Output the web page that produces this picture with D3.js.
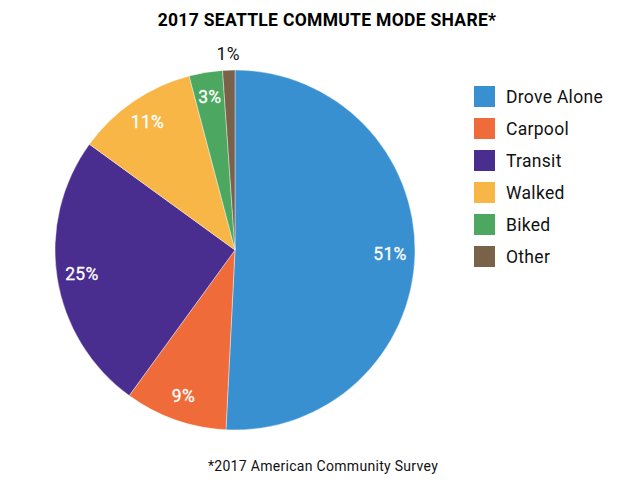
<!DOCTYPE html>
<html>
<head>
<meta charset="utf-8">
<script src="https://cdn.jsdelivr.net/npm/d3@7"></script>
<style>
    body { margin: 0; background: #fff; }
    text { font-family: Roboto, "DejaVu Sans", sans-serif; }
</style>
</head>
<body>
<script>
// commute mode share data
var modes = ["Drove Alone", "Carpool", "Transit", "Walked", "Biked", "Other"];
var shares = [50.8, 9.2, 25.0, 10.9, 3.0, 1.1];
var shareLabels = ["51%", "9%", "25%", "11%", "3%", "1%"];
var colors = ["#3890d0", "#ef6c3a", "#4a2e8f", "#f7b645", "#4ca860", "#7a624a"];

window.onload = function(){

    var w = 618,
        h = 481;

    var svg = d3.select("body")
        .append("svg")
        .attr("width", w)
        .attr("height", h);

    // title
    svg.append("text")
        .attr("x", 327)
        .attr("y", 26)
        .attr("text-anchor", "middle")
        .style("font-size", "17.5px")
        .style("font-weight", "bold")
        .style("letter-spacing", "0.3px")
        .text("2017 SEATTLE COMMUTE MODE SHARE*");

    var data = modes.map(function(m, i){
        return { mode: m, value: shares[i], label: shareLabels[i] };
    });

    var color = d3.scaleOrdinal()
        .domain(modes)
        .range(colors);

    var pie = d3.pie()
        .sort(null)
        .value(function(d){ return d.value; });

    var radius = 180;
    var arc = d3.arc().innerRadius(0).outerRadius(radius);
    var labelArc = d3.arc().innerRadius(155).outerRadius(155);
    var outerArc = d3.arc().innerRadius(196).outerRadius(196);

    var g = svg.append("g")
        .attr("transform", "translate(235,250)");

    var arcs = pie(data);

    g.selectAll(".slice")
        .data(arcs)
        .enter()
        .append("path")
        .attr("class", "slice")
        .attr("d", arc)
        .style("fill", function(d){ return color(d.data.mode); })
        .style("stroke", "#fff")
        .style("stroke-width", 0.4);

    // percentage labels, small slice goes outside
    g.selectAll(".pct")
        .data(arcs)
        .enter()
        .append("text")
        .attr("class", "pct")
        .attr("transform", function(d){
            var c = d.data.value < 2 ? outerArc.centroid(d) : labelArc.centroid(d);
            return "translate(" + c + ")";
        })
        .attr("text-anchor", "middle")
        .attr("dy", "0.35em")
        .style("font-size", "17.5px")
        .style("letter-spacing", "0.3px")
        .style("fill", function(d){ return d.data.value < 2 ? "#111" : "#fff"; })
        .style("stroke", function(d){ return d.data.value < 2 ? "none" : "#fff"; })
        .style("stroke-width", 0.3)
        .text(function(d){ return d.data.label; });

    // legend
    var legend = svg.selectAll(".legend")
        .data(modes)
        .enter()
        .append("g")
        .attr("class", "legend")
        .attr("transform", function(d, i){
            return "translate(474," + (86 + i * 32) + ")";
        });

    legend.append("rect")
        .attr("width", 21)
        .attr("height", 21)
        .style("fill", function(d){ return color(d); });

    legend.append("text")
        .attr("x", 32)
        .attr("y", 11)
        .attr("dy", "0.35em")
        .style("font-size", "17.5px")
        .style("letter-spacing", "0.3px")
        .style("fill", "#111")
        .text(function(d){ return d; });

    // footnote
    svg.append("text")
        .attr("x", 323)
        .attr("y", 471)
        .attr("text-anchor", "middle")
        .style("font-size", "14px")
        .style("letter-spacing", "0.3px")
        .style("fill", "#111")
        .text("*2017 American Community Survey");
};
</script>
</body>
</html>
